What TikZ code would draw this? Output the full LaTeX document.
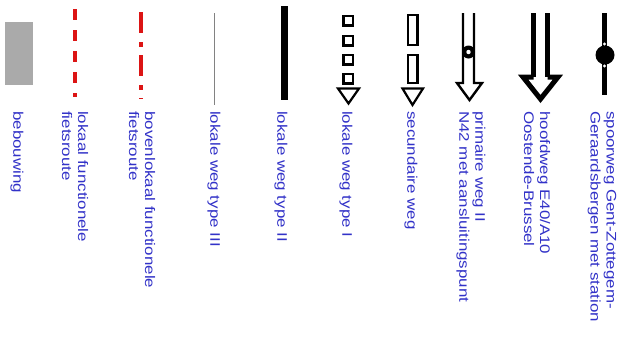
\documentclass[tikz,border=0pt]{standalone}
\usepackage{fontspec}
\setmainfont{Liberation Sans}
\definecolor{lblblue}{RGB}{50,50,200}
\definecolor{fietsred}{RGB}{220,20,20}
\definecolor{bebgray}{RGB}{170,170,170}
\definecolor{thingray}{RGB}{130,130,130}
\tikzset{
  lbl/.style={font=\fontsize{17}{19.5}\selectfont, text=lblblue, inner sep=0pt,
    anchor=west, rotate=-90, yscale=0.82, align=left},
  fiets/.style={draw=fietsred, line width=4bp},
  outl/.style={draw=black, line width=2.2bp, fill=white},
}
\begin{document}
\begin{tikzpicture}[x=1bp,y=-1bp]
\useasboundingbox (0,0) rectangle (628,338);
\fill[white] (0,0) rectangle (628,338);
% bebouwing
\fill[bebgray] (5,22) rectangle (33,85);
\node[lbl] (l1) at (17,111) {bebouwing};
% lokaal functionele fietsroute
\draw[fiets, dash pattern=on 11bp off 10bp] (75,9) -- (75,97);
\node[lbl] (l2) at (75,111) {lokaal functionele\\fietsroute};
% bovenlokaal
\draw[fiets, dash pattern=on 21bp off 9bp on 5bp off 8bp] (141,12) -- (141,99);
\node[lbl] (l3) at (142,111) {bovenlokaal functionele\\fietsroute};
% lokale weg type III
\draw[thingray, line width=1.3bp] (214.5,13) -- (214.5,105);
\node[lbl] (l4) at (214,111) {lokale weg type III};
% lokale weg type II
\draw[black, line width=7bp] (284,6) -- (284,100);
\node[lbl] (l5) at (281,111) {lokale weg type II};
% lokale weg type I
\foreach \t in {16,36,55,74}{
  \draw[outl] (343.5,\t) rectangle (353,\t+9.5);
}
\draw[outl, line join=miter] (338,88.5) -- (359,88.5) -- (348.5,103.5) -- cycle;
\node[lbl] (l6) at (346,111) {lokale weg type I};
% secundaire weg
\draw[outl] (408,15) rectangle (417.5,45);
\draw[outl] (408,55) rectangle (417.5,83);
\draw[outl, line join=miter] (402.5,88.5) -- (423,88.5) -- (412.5,105) -- cycle;
\node[lbl] (l7) at (411,111) {secundaire weg};
% primaire weg II
\draw[black, line width=2.4bp, line join=miter]
  (463,13) -- (463,83) -- (457,83) -- (469.5,100) -- (482,83) -- (474,83) -- (474,13);
\fill[black] (468.5,52) circle (6.5bp);
\fill[white] (468.5,52) circle (2.2bp);
\node[lbl] (l8) at (471,111) {primaire weg II\\N42 met aansluitingspunt};
% hoofdweg
\draw[black, line width=5.5bp] (533.5,13) -- (533.5,77);
\draw[black, line width=5.5bp] (547.5,13) -- (547.5,77);
\draw[black, line width=5bp, line join=miter]
  (533.5,77) -- (523,77) -- (540.5,99) -- (558,77) -- (547.5,77);
\node[lbl] (l9) at (537,111) {hoofdweg E40/A10\\Oostende-Brussel};
% spoorweg
\draw[black, line width=5bp] (604.5,13) -- (604.5,95);
\fill[black] (605,55) circle (9.5bp);
\fill[white] (604.5,44) circle (1.6bp);
\fill[white] (604.5,66) circle (1.6bp);
\node[lbl] (l10) at (602,111) {spoorweg Gent-Zottegem-\\Geraardsbergen met station};
\end{tikzpicture}
\end{document}
